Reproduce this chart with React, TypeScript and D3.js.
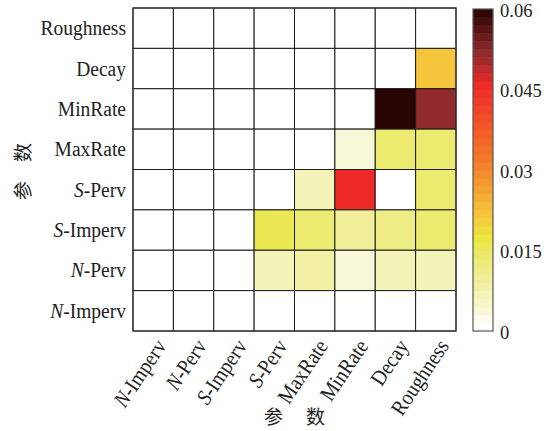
import {useEffect, useRef} from 'react';
import * as d3 from 'd3';

const params = ['N-Imperv', 'N-Perv', 'S-Imperv', 'S-Perv', 'MaxRate', 'MinRate', 'Decay', 'Roughness'];

// one array per row, top (Roughness) to bottom (N-Imperv); columns follow params
const rowRoughness = [0, 0, 0, 0, 0, 0, 0, 0];
const rowDecay = [0, 0, 0, 0, 0, 0, 0, 0.021];
const rowMinRate = [0, 0, 0, 0, 0, 0, 0.06, 0.051];
const rowMaxRate = [0, 0, 0, 0, 0, 0.003, 0.013, 0.013];
const rowSPerv = [0, 0, 0, 0, 0.006, 0.045, 0, 0.013];
const rowSImperv = [0, 0, 0, 0.015, 0.013, 0.009, 0.011, 0.013];
const rowNPerv = [0, 0, 0, 0.006, 0.008, 0.003, 0.006, 0.006];
const rowNImperv = [0, 0, 0, 0, 0, 0, 0, 0];

const rows = [rowRoughness, rowDecay, rowMinRate, rowMaxRate, rowSPerv, rowSImperv, rowNPerv, rowNImperv];
const rowNames = ['Roughness', 'Decay', 'MinRate', 'MaxRate', 'S-Perv', 'S-Imperv', 'N-Perv', 'N-Imperv'];

const cbTicks = [0, 0.015, 0.03, 0.045, 0.06];
const cbStops = [0, 0.003, 0.009, 0.0135, 0.0165, 0.021, 0.03, 0.045, 0.051, 0.059];
const cbColors = ['#ffffff', '#f8f7d8', '#f0ee98', '#ece96a', '#ebe73e', '#f4c43a', '#f4822a', '#ee2a28', '#902a2c', '#2a0505'];
const nLevels = 40;

const fmt = (v: number) => (v === 0 ? '0' : String(v));

// labels like "N-Perv" get an italic first letter
const addLabel = (sel: d3.Selection<SVGTextElement, unknown, null, undefined>, name: string) => {
  const m = name.match(/^([NS])(-.*)$/);
  if (m) {
    sel.append('tspan').attr('font-style', 'italic').text(m[1]);
    sel.append('tspan').text(m[2]);
  } else {
    sel.text(name);
  }
};

const App = () => {
  const svgRef = useRef<SVGSVGElement | null>(null);

  useEffect(() => {
    if (!svgRef.current) return;
    const svg = d3.select(svgRef.current);
    svg.selectAll('*').remove();

    const grid = {left: 133, top: 8, size: 323};
    const font = "'Liberation Serif', 'Times New Roman', Times, serif";
    const fs = 19.5;
    const tall = 'scale(1,1.12)';

    const x = d3.scaleBand<string>().domain(params).range([grid.left, grid.left + grid.size]);
    const y = d3.scaleBand<string>().domain(rowNames).range([grid.top, grid.top + grid.size]);

    const color = d3.scaleLinear<string>().domain(cbStops).range(cbColors).clamp(true);
    const levels = d3.range(nLevels).map((i) => color((i * 0.06) / nLevels));

    // cells
    rows.forEach((row, ri) => {
      svg
        .append('g')
        .selectAll('rect')
        .data(row)
        .join('rect')
        .attr('x', (_, ci) => x(params[ci])!)
        .attr('y', y(rowNames[ri])!)
        .attr('width', x.bandwidth())
        .attr('height', y.bandwidth())
        .attr('fill', (d) => color(d))
        .attr('stroke', '#1a1a1a')
        .attr('stroke-width', 1);
    });
    svg
      .append('rect')
      .attr('x', grid.left)
      .attr('y', grid.top)
      .attr('width', grid.size)
      .attr('height', grid.size)
      .attr('fill', 'none')
      .attr('stroke', '#333')
      .attr('stroke-width', 1.2);

    // y tick labels
    rowNames.forEach((name) => {
      const t = svg
        .append('text')
        .attr('transform', `translate(${grid.left - 7},${y(name)! + y.bandwidth() / 2 + 7}) ${tall}`)
        .attr('text-anchor', 'end')
        .attr('font-family', font)
        .attr('font-size', fs)
        .attr('fill', '#222');
      addLabel(t, name);
    });

    // x tick labels
    params.forEach((name) => {
      const t = svg
        .append('text')
        .attr(
          'transform',
          `translate(${x(name)! + x.bandwidth() / 2 + 14},${grid.top + grid.size + 15}) rotate(-56) ${tall}`
        )
        .attr('text-anchor', 'end')
        .attr('font-family', font)
        .attr('font-size', fs)
        .attr('fill', '#222');
      addLabel(t, name);
    });

    // axis titles
    const xt = svg
      .append('text')
      .attr('x', grid.left + grid.size / 2)
      .attr('y', 424)
      .attr('text-anchor', 'middle')
      .attr('font-family', 'Noto Sans CJK SC')
      .attr('font-size', 19)
      .attr('fill', '#222');
    xt.append('tspan').text('参');
    xt.append('tspan').attr('dx', 23).text('数');

    const yt = svg
      .append('text')
      .attr('transform', `translate(30,${grid.top + grid.size / 2 + 2}) rotate(-90)`)
      .attr('text-anchor', 'middle')
      .attr('font-family', 'Noto Sans CJK SC')
      .attr('font-size', 19)
      .attr('fill', '#222');
    yt.append('tspan').text('参');
    yt.append('tspan').attr('dx', 19).text('数');

    // colorbar
    const cb = {left: 473, width: 20, top: 9, bottom: 331};
    const cy = d3.scaleLinear().domain([0, 0.06]).range([cb.bottom, cb.top]);
    svg
      .append('g')
      .selectAll('rect')
      .data(levels)
      .join('rect')
      .attr('x', cb.left)
      .attr('y', (_, i) => cy(((i + 1) * 0.06) / nLevels))
      .attr('width', cb.width)
      .attr('height', cy(0) - cy(0.06 / nLevels) + 0.5)
      .attr('fill', (d) => d);
    svg
      .append('rect')
      .attr('x', cb.left)
      .attr('y', cb.top)
      .attr('width', cb.width)
      .attr('height', cb.bottom - cb.top)
      .attr('fill', 'none')
      .attr('stroke', '#555')
      .attr('stroke-width', 1.2);

    cbTicks.forEach((v) => {
      svg
        .append('text')
        .attr('x', cb.left + cb.width + 7)
        .attr('y', cy(v) + 7.5)
        .attr('font-family', font)
        .attr('font-size', 18.5)
        .attr('fill', '#222')
        .text(fmt(v));
    });
  }, []);

  return (
    <svg
      ref={svgRef}
      width={555}
      height={431}
      style={{position: 'absolute', left: 0, top: 0, background: '#fff'}}
    ></svg>
  );
};

export default App;
